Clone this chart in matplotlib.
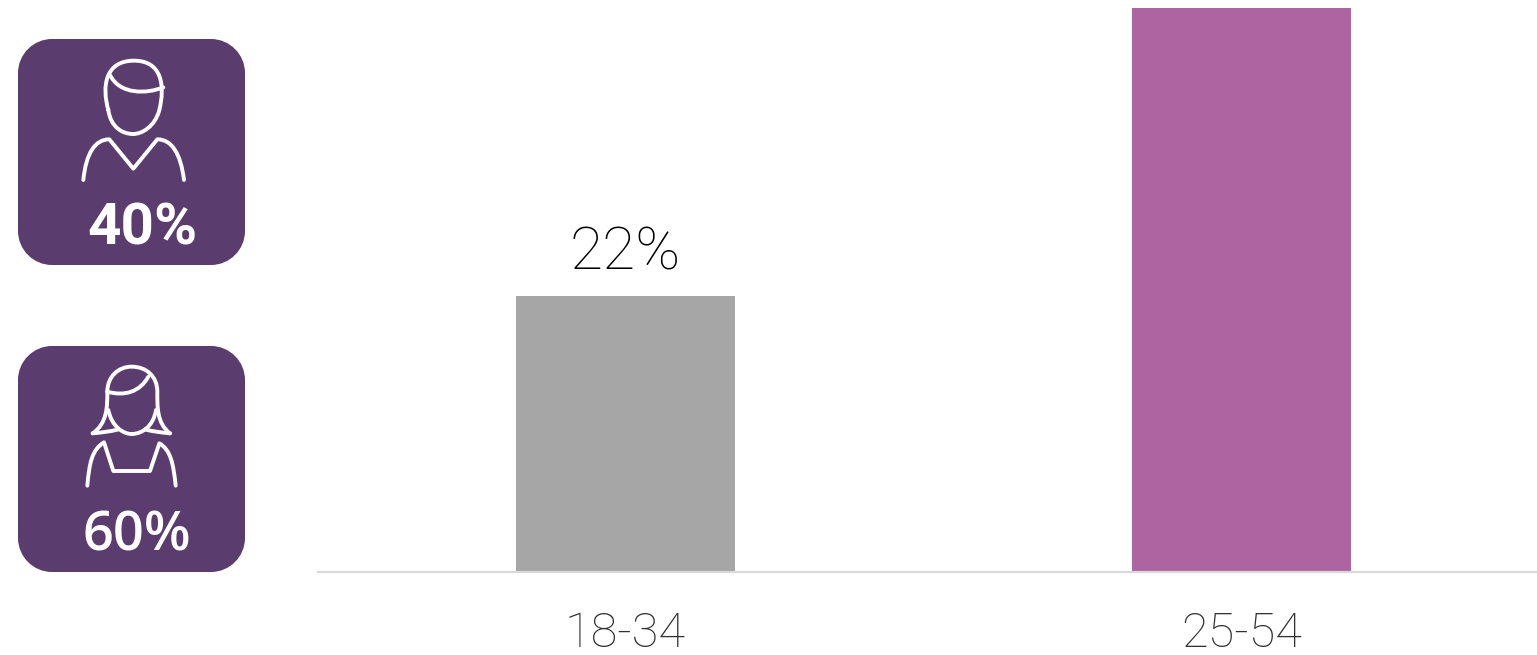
import matplotlib
matplotlib.use("Agg")
import matplotlib.pyplot as plt
from matplotlib.patches import PathPatch
from matplotlib.path import Path

W, H = 1537, 655
categories = ["18-34", "25-54"]
values = [22, 45]
bar_colors = ["#a6a6a6", "#ae64a0"]
value_labels = ["22%", None]
gender_labels = ["40%", "60%"]

fig = plt.figure(figsize=(W / 100, H / 100), dpi=100, facecolor="white")

# chart axes
ax = fig.add_axes([318 / W, 1 - 572 / H, (1537 - 318) / W, (572 - 8) / H])
ax.bar(range(len(categories)), values, width=0.355, color=bar_colors, zorder=2)
ax.set_xlim(-0.499, 1.479)
ax.set_ylim(0, 45)
for s in ("top", "left", "right"):
    ax.spines[s].set_visible(False)
ax.spines["bottom"].set_color("#d9d9d9")
ax.spines["bottom"].set_linewidth(1.6)
ax.set_yticks([])
ax.set_xticks(range(len(categories)))
ax.set_xticklabels(categories, family="Roboto", weight="light", fontsize=35, color="#303030")
ax.tick_params(axis="x", length=0, pad=28)
for i, (v, lab) in enumerate(zip(values, value_labels)):
    if lab:
        ax.text(i, v + 1.2, lab, ha="center", va="bottom", family="Roboto",
                weight="light", fontsize=43.5, color="black")

# overlay in pixel coordinates for the icons
ov = fig.add_axes([0, 0, 1, 1], facecolor="none")
ov.set_xlim(0, W)
ov.set_ylim(H, 0)
ov.axis("off")
PURPLE = "#5b3c6f"

M, L, C = Path.MOVETO, Path.LINETO, Path.CURVE4


def card(y0, x0=18, s=226, r=34):
    k = r * 0.45
    x1, y1 = x0 + s + 1, y0 + s
    verts = [(x0 + r, y0), (x1 - r, y0), (x1 - k, y0), (x1, y0 + k), (x1, y0 + r),
             (x1, y1 - r), (x1, y1 - k), (x1 - k, y1), (x1 - r, y1),
             (x0 + r, y1), (x0 + k, y1), (x0, y1 - k), (x0, y1 - r),
             (x0, y0 + r), (x0, y0 + k), (x0 + k, y0), (x0 + r, y0), (x0 + r, y0)]
    codes = [M, L, C, C, C, L, C, C, C, L, C, C, C, L, C, C, C, Path.CLOSEPOLY]
    ov.add_patch(PathPatch(Path(verts, codes), fc=PURPLE, ec="none"))


def stroke(pts, codes, ox, oy):
    verts = [(x / 3 + ox, y / 3 + oy) for x, y in pts]
    ov.add_patch(PathPatch(Path(verts, codes), fc="none", ec="white", lw=2.8,
                           capstyle="round", joinstyle="round"))


card(39)
card(346)

# man
ox, oy = 0, 30
stroke([(325, 240), (305, 170), (315, 92), (402, 92), (488, 92), (495, 170), (478, 240),
        (465, 290), (425, 312), (400, 312), (365, 312), (332, 290), (325, 240)],
       [M, C, C, C, C, C, C, C, C, C, C, C, C], ox, oy)
stroke([(330, 135), (360, 195), (440, 192), (490, 172)], [M, C, C, C], ox, oy)
stroke([(250, 450), (258, 370), (285, 328), (328, 328), (400, 416), (472, 328),
        (515, 328), (542, 370), (552, 450)],
       [M, C, C, C, L, L, C, C, C], ox, oy)

# woman
ox, oy = 0, 335
stroke([(322, 170), (322, 125), (355, 95), (395, 95), (440, 95), (472, 125), (472, 170),
        (472, 215), (470, 265), (510, 295)],
       [M, C, C, C, C, C, C, C, C, C], ox, oy)
stroke([(322, 170), (322, 215), (322, 265), (278, 295)], [M, C, C, C], ox, oy)
stroke([(322, 170), (375, 185), (420, 170), (445, 125)], [M, C, C, C], ox, oy)
stroke([(278, 295), (310, 292), (340, 288), (355, 283)], [M, C, C, C], ox, oy)
stroke([(510, 295), (480, 292), (450, 288), (435, 283)], [M, C, C, C], ox, oy)
stroke([(325, 225), (335, 275), (370, 297), (395, 297), (425, 297), (460, 275), (468, 225)],
       [M, C, C, C, C, C, C], ox, oy)
stroke([(262, 452), (268, 385), (275, 345), (312, 322), (340, 408), (450, 408),
        (478, 325), (512, 345), (520, 385), (527, 452)],
       [M, C, C, C, L, L, L, C, C, C], ox, oy)

ov.text(142, 223, gender_labels[0], ha="center", va="center_baseline", family="Roboto",
        weight="bold", fontsize=42, color="white")
ov.text(137, 530, gender_labels[1], ha="center", va="center_baseline", family="Open Sans",
        weight="semibold", fontsize=39, color="white")

fig.savefig("out.png", dpi=100, facecolor="white")
